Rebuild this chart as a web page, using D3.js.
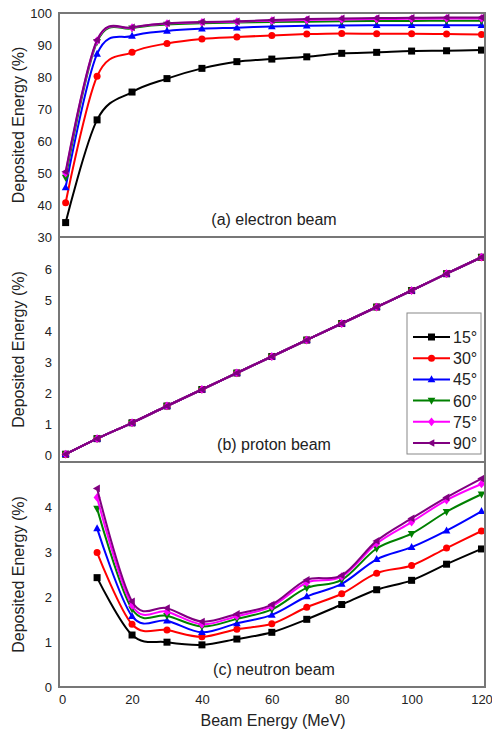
<!DOCTYPE html>
<html><head><meta charset="utf-8">
<script src="https://cdn.jsdelivr.net/npm/d3@7"></script>
<style>body{margin:0;background:#fff}text{font-family:"Liberation Sans",Arial,sans-serif}</style>
</head><body><svg id="c" width="492" height="733"></svg>
<script>
const angles = ["15°","30°","45°","60°","75°","90°"];
const colors = ["#000000","#ff0000","#0000ff","#008000","#ff00ff","#800080"];
const markers = ["square","circle","triUp","triDown","diamond","triLeft"];

const xElectron = [1,10,20,30,40,50,60,70,80,90,100,110,120];
const electron15 = [34.5,66.6,75.3,79.5,82.7,84.8,85.6,86.3,87.4,87.7,88.1,88.2,88.4];
const electron30 = [40.7,80.2,87.7,90.5,91.9,92.5,93.0,93.4,93.6,93.5,93.5,93.4,93.3];
const electron45 = [45.5,87.2,92.8,94.4,95.1,95.4,95.8,96.0,96.1,96.2,96.2,96.2,96.2];
const electron60 = [48.6,91.0,95.2,96.4,96.8,97.0,97.2,97.3,97.4,97.5,97.5,97.6,97.6];
const electron75 = [50.0,91.4,95.4,96.7,97.1,97.3,97.6,97.8,98.0,98.1,98.2,98.3,98.3];
const electron90 = [50.4,91.6,95.5,96.8,97.2,97.4,97.8,98.1,98.3,98.4,98.5,98.6,98.6];

const xProton = [1,10,20,30,40,50,60,70,80,90,100,110,120];
const proton15 = [0.05,0.55,1.06,1.60,2.13,2.66,3.19,3.72,4.25,4.78,5.31,5.85,6.38];
const proton30 = [0.05,0.55,1.06,1.60,2.13,2.66,3.19,3.72,4.25,4.78,5.31,5.85,6.38];
const proton45 = [0.05,0.55,1.06,1.60,2.13,2.66,3.19,3.72,4.25,4.78,5.31,5.85,6.38];
const proton60 = [0.05,0.55,1.06,1.60,2.13,2.66,3.19,3.72,4.25,4.78,5.31,5.85,6.38];
const proton75 = [0.05,0.55,1.06,1.60,2.13,2.66,3.19,3.72,4.25,4.78,5.31,5.85,6.38];
const proton90 = [0.05,0.55,1.06,1.60,2.13,2.66,3.19,3.72,4.25,4.78,5.31,5.85,6.38];

const xNeutron = [10,20,30,40,50,60,70,80,90,100,110,120];
const neutron15 = [2.44,1.16,1.00,0.94,1.07,1.22,1.51,1.84,2.17,2.38,2.74,3.08];
const neutron30 = [3.00,1.40,1.27,1.12,1.29,1.41,1.78,2.08,2.54,2.71,3.10,3.48];
const neutron45 = [3.54,1.58,1.48,1.22,1.42,1.61,2.02,2.30,2.85,3.12,3.49,3.92];
const neutron60 = [3.98,1.74,1.59,1.35,1.52,1.73,2.21,2.39,3.09,3.42,3.91,4.30];
const neutron75 = [4.23,1.82,1.68,1.40,1.58,1.80,2.33,2.46,3.20,3.68,4.17,4.53];
const neutron90 = [4.43,1.91,1.76,1.46,1.63,1.84,2.39,2.49,3.26,3.76,4.23,4.65];

const xTicks = [0,20,40,60,80,100,120];
const electronTicks = [30,40,50,60,70,80,90,100];
const protonTicks = [0,1,2,3,4,5,6];
const neutronTicks = [0,1,2,3,4];

const panels = [
  {xs:xElectron, series:[electron15,electron30,electron45,electron60,electron75,electron90], domain:[30,100], ticks:electronTicks, top:13, bottom:237, label:"(a) electron beam"},
  {xs:xProton, series:[proton15,proton30,proton45,proton60,proton75,proton90], domain:[-0.2,7.03], ticks:protonTicks, top:237, bottom:462, label:"(b) proton beam"},
  {xs:xNeutron, series:[neutron15,neutron30,neutron45,neutron60,neutron75,neutron90], domain:[0,5.02], ticks:neutronTicks, top:462, bottom:687, label:"(c) neutron beam"}
];

const svg = d3.select("#c");
const left = 59, right = 485;
const x = d3.scaleLinear().domain([-0.9,121]).range([left,right]);

function markerPath(type, s){
  const h = s/2;
  switch(type){
    case "square": return `M${-h},${-h}H${h}V${h}H${-h}Z`;
    case "circle": return d3.symbol(d3.symbolCircle, Math.PI*h*h)();
    case "triUp": return `M0,${-h*1.2}L${h*1.1},${h*0.8}L${-h*1.1},${h*0.8}Z`;
    case "triDown": return `M0,${h*1.2}L${h*1.1},${-h*0.8}L${-h*1.1},${-h*0.8}Z`;
    case "diamond": return `M0,${-h*1.25}L${h},0L0,${h*1.25}L${-h},0Z`;
    case "triLeft": return `M${-h*1.2},0L${h*0.8},${-h*1.1}L${h*0.8},${h*1.1}Z`;
  }
}

panels.forEach((p,pi)=>{
  const y = d3.scaleLinear().domain(p.domain).range([p.bottom,p.top]);
  const g = svg.append("g");
  const clipId = "clip"+pi;
  svg.append("clipPath").attr("id",clipId).append("rect").attr("x",left).attr("y",p.top).attr("width",right-left).attr("height",p.bottom-p.top);
  const yAxis = d3.axisLeft(y).tickValues(p.ticks).tickSize(0).tickPadding(7).tickFormat(d3.format("d"));
  const ya = g.append("g").attr("transform",`translate(${left},0)`).call(yAxis);
  ya.select(".domain").remove();
  ya.selectAll("text").attr("font-size",13).attr("fill","#222").style("font-family","Liberation Sans, Arial, sans-serif");
  const line = d3.line().x((d,i)=>x(p.xs[i])).y(d=>y(d)).curve(d3.curveCardinal.tension(0));
  const dg = g.append("g").attr("clip-path",`url(#${clipId})`);
  p.series.forEach((s,si)=>{
    dg.append("path").datum(s).attr("d",line).attr("fill","none").attr("stroke",colors[si]).attr("stroke-width",2);
    dg.selectAll(null).data(s).enter().append("path")
      .attr("transform",(d,i)=>`translate(${x(p.xs[i])},${y(d)})`)
      .attr("d",markerPath(markers[si],7)).attr("fill",colors[si]);
  });
  g.append("text").attr("x",274).attr("y",p.bottom-12).attr("text-anchor","middle").attr("font-size",16).attr("fill","#222").text(p.label);
  g.append("text").attr("transform",`translate(24,${(p.top+p.bottom)/2}) rotate(-90)`).attr("text-anchor","middle").attr("font-size",16).attr("fill","#222").text("Deposited Energy (%)");
  g.append("rect").attr("x",left).attr("y",p.top).attr("width",right-left).attr("height",p.bottom-p.top).attr("fill","none").attr("stroke","#777").attr("stroke-width",2);
});

const xAxis = d3.axisBottom(x).tickValues(xTicks).tickSize(0).tickPadding(8);
const xa = svg.append("g").attr("transform",`translate(0,687)`).call(xAxis);
xa.select(".domain").remove();
xa.selectAll("text").attr("font-size",13).attr("fill","#222").style("font-family","Liberation Sans, Arial, sans-serif");
svg.append("text").attr("x",273).attr("y",726).attr("text-anchor","middle").attr("font-size",16).attr("fill","#222").text("Beam Energy (MeV)");

// legend
const lg = svg.append("g");
lg.append("rect").attr("x",407).attr("y",313).attr("width",74).attr("height",141).attr("fill","#fff").attr("stroke","#888").attr("stroke-width",1);
angles.forEach((a,i)=>{
  const yy = 337 + i*21.2;
  lg.append("line").attr("x1",413).attr("x2",450).attr("y1",yy).attr("y2",yy).attr("stroke",colors[i]).attr("stroke-width",2);
  lg.append("path").attr("transform",`translate(431.5,${yy})`).attr("d",markerPath(markers[i],7)).attr("fill",colors[i]);
  lg.append("text").attr("x",453).attr("y",yy+6).attr("font-size",16).attr("fill","#222").text(a);
});
</script></body></html>
